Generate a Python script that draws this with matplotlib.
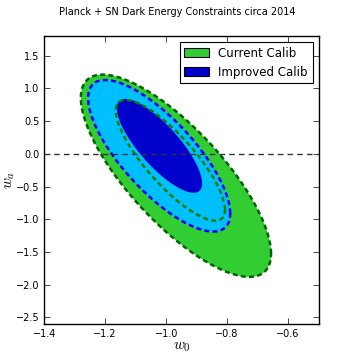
import numpy as np
import matplotlib.pyplot as plt
from matplotlib.patches import Patch

plt.rcParams['mathtext.fontset'] = 'cm'

# contour ellipses: centre w0, centre wa, half extent w0, half extent wa, correlation
cur_outer = [-0.968, -0.335, 0.312, 1.545, -0.77]   # current calib, 2 sigma
cur_inner = [-0.986, -0.099, 0.179, 0.922, -0.82]   # current calib, 1 sigma
imp_outer = [-1.023, -0.030, 0.233, 1.158, -0.76]   # improved calib, 2 sigma
imp_inner = [-1.022, 0.122, 0.140, 0.717, -0.80]    # improved calib, 1 sigma

labels = ['Current Calib', 'Improved Calib']
xticks = [-1.4, -1.2, -1.0, -0.8, -0.6]
yticks = [-2.5, -2.0, -1.5, -1.0, -0.5, 0.0, 0.5, 1.0, 1.5]


def ellipse(p, n=300):
    cx, cy, sx, sy, r = p
    t = np.linspace(0, 2 * np.pi, n)
    x = cx + sx * np.cos(t)
    y = cy + sy * (r * np.cos(t) + np.sqrt(1 - r ** 2) * np.sin(t))
    return x, y


fig = plt.figure(figsize=(3.54, 3.6), dpi=100)
fig.subplots_adjust(left=0.125, right=0.9, top=0.9, bottom=0.1)
ax = fig.add_subplot(111)

dash = (0, (2, 1.3))
x, y = ellipse(cur_outer)
ax.fill(x, y, color='limegreen', lw=0, zorder=1)
ax.plot(x, y, color='darkgreen', lw=1.8, ls=dash, zorder=5)
x, y = ellipse(imp_outer)
ax.fill(x, y, color='deepskyblue', lw=0, zorder=2)
ax.plot(x, y, color='blue', lw=1.8, ls=dash, zorder=5)
x, y = ellipse(imp_inner)
ax.fill(x, y, color='mediumblue', lw=0, zorder=3)
x, y = ellipse(cur_inner)
ax.plot(x, y, color='green', lw=1.8, ls=dash, zorder=6)

ax.axhline(0, color='#333333', lw=1, ls=(0, (4, 3)), zorder=7)

ax.set_xlim(-1.4, -0.5)
ax.set_ylim(-2.6, 1.8)
ax.set_xticks(xticks)
ax.set_yticks(yticks)
ax.tick_params(direction='in', top=True, right=True, labelsize=7, length=4, width=0.5)
for s in ax.spines.values():
    s.set_linewidth(1)
ax.set_xlabel(r'$w_0$', fontsize=11, labelpad=0)
ax.set_ylabel(r'$w_a$', fontsize=11)
ax.yaxis.set_label_coords(-0.1, 0.5)
fig.suptitle('Planck + SN Dark Energy Constraints circa 2014', fontsize=7, y=0.98)

handles = [Patch(facecolor='limegreen', edgecolor='k', lw=0.8, label=labels[0]),
           Patch(facecolor='mediumblue', edgecolor='k', lw=0.8, label=labels[1])]
leg = ax.legend(handles=handles, loc='upper right', fontsize=8.5, fancybox=False,
                framealpha=1, edgecolor='k', handlelength=2.1, borderaxespad=0.5)
leg.get_frame().set_linewidth(0.8)
leg.set_zorder(10)

fig.savefig('out.png', dpi=100)
